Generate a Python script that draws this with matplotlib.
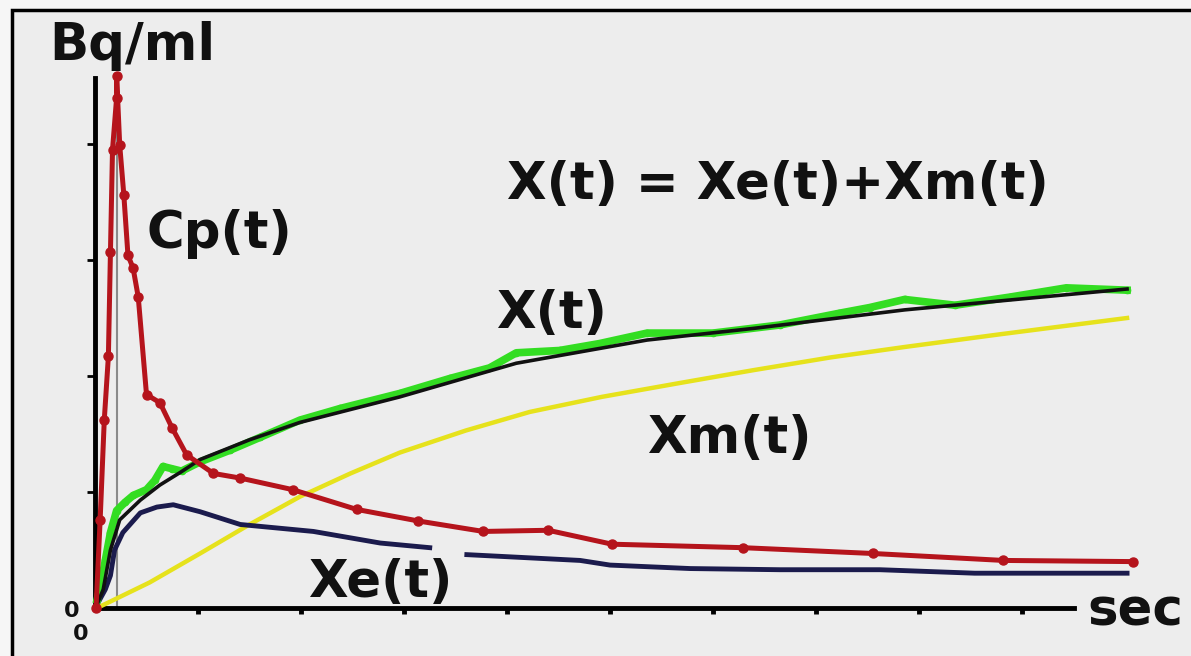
import numpy as np
import matplotlib
matplotlib.use("Agg")
import matplotlib.pyplot as plt
from matplotlib.patches import Rectangle

# time axis in tick units (one tick = one unit), values in tick units too
cp_t = [0.01, 0.05, 0.09, 0.13, 0.15, 0.17, 0.21, 0.21, 0.24, 0.28, 0.32, 0.37,
        0.42, 0.50, 0.63, 0.75, 0.89, 1.15, 1.41, 1.92, 2.54, 3.14, 3.77, 4.40,
        5.02, 6.29, 7.55, 8.82, 10.08]
cp_v = [0.00, 0.76, 1.62, 2.17, 3.07, 3.95, 4.40, 4.59, 3.99, 3.56, 3.04, 2.93,
        2.68, 1.84, 1.77, 1.55, 1.32, 1.16, 1.12, 1.02, 0.85, 0.75, 0.66, 0.67,
        0.55, 0.52, 0.47, 0.41, 0.40]

xmeas_t = [0.02, 0.05, 0.10, 0.15, 0.21, 0.29, 0.37, 0.50, 0.58, 0.66, 0.75, 0.84,
           1.02, 1.31, 1.60, 1.99, 2.38, 2.96, 3.45, 3.83, 4.09, 4.51, 4.90, 5.36,
           6.00, 6.65, 7.22, 7.52, 7.86, 8.35, 8.88, 9.43, 10.02]
xmeas_v = [0.07, 0.18, 0.41, 0.65, 0.84, 0.91, 0.97, 1.02, 1.10, 1.22, 1.20, 1.18,
           1.26, 1.36, 1.47, 1.62, 1.72, 1.85, 1.98, 2.07, 2.20, 2.22, 2.28, 2.37,
           2.37, 2.44, 2.54, 2.59, 2.66, 2.61, 2.68, 2.76, 2.74]

xfit_t = [0.02, 0.08, 0.15, 0.24, 0.44, 0.63, 0.83, 1.02, 1.50, 1.99, 2.96, 4.09,
          5.36, 6.39, 7.86, 10.02]
xfit_v = [0.03, 0.16, 0.50, 0.76, 0.93, 1.06, 1.17, 1.28, 1.45, 1.60, 1.82, 2.11,
          2.31, 2.41, 2.57, 2.75]

# nan leaves the small break next to the Xe(t) label
xe_t = [0.02, 0.10, 0.15, 0.19, 0.27, 0.44, 0.60, 0.76, 1.02, 1.41, 2.12, 2.77,
        3.25, 3.43, 3.61, 4.71, 5.00, 5.78, 6.65, 7.62, 8.54, 10.02]
xe_v = [0.03, 0.16, 0.28, 0.50, 0.65, 0.82, 0.87, 0.89, 0.83, 0.72, 0.66, 0.56,
        0.52, np.nan, 0.46, 0.41, 0.37, 0.34, 0.33, 0.33, 0.30, 0.30]

xm_t = [0.02, 0.53, 1.02, 1.50, 1.99, 2.48, 2.96, 3.60, 4.22, 4.92, 5.68, 6.39,
        7.14, 7.86, 8.79, 10.02]
xm_v = [0.00, 0.22, 0.47, 0.72, 0.96, 1.16, 1.34, 1.53, 1.69, 1.82, 1.94, 2.05,
        2.16, 2.25, 2.36, 2.50]

x_ticks = [1, 2, 3, 4, 5, 6, 7, 8, 9]
y_ticks = [1, 2, 3, 4]

fig = plt.figure(figsize=(11.91, 6.56), dpi=100)
fig.patch.set_facecolor("#f6f6f6")
# outer frame of the picture, kept behind the axes
fig.patches.append(Rectangle((12 / 1191, -0.1), 1.2, 0.1 + 646 / 656,
                             transform=fig.transFigure, facecolor="#ededed",
                             edgecolor="black", linewidth=2.5, zorder=-5))

ax = fig.add_axes([95 / 1191, 48 / 656, 1 - 95 / 1191, 608 / 656])
ax.set_facecolor("none")
ax.set_xlim(0, 1096 / 103)
ax.set_ylim(0, 608 / 116)

for s in ["top", "right"]:
    ax.spines[s].set_visible(False)
ax.spines["left"].set_linewidth(3.5)
ax.spines["bottom"].set_linewidth(3.5)
ax.spines["left"].set_bounds(0, 4.57)
ax.spines["bottom"].set_bounds(0, 9.50)
ax.set_xticks(x_ticks)
ax.set_yticks(y_ticks)
ax.set_xticklabels([])
ax.set_yticklabels([])
ax.tick_params(axis="x", direction="out", length=4, width=3.5, color="black")
ax.tick_params(axis="y", direction="out", length=6, width=2, color="black")

# thin grey marker line at the peak time
ax.plot([0.21, 0.21], [0, 4.57], color="#8a8a8a", lw=1.5, zorder=2)

ax.plot(xm_t, xm_v, color="#e6e21c", lw=3.2, zorder=3, clip_on=False)
ax.plot(xe_t, xe_v, color="#1b1b4d", lw=3.5, zorder=3, clip_on=False)
ax.plot(xmeas_t, xmeas_v, color="#33dd22", lw=5.5, marker="o", ms=4.5,
        zorder=4, clip_on=False)
ax.plot(xfit_t, xfit_v, color="#111111", lw=2.6, zorder=5, clip_on=False)
ax.plot(cp_t, cp_v, color="#b5141c", lw=3.6, marker="o", ms=6.5,
        zorder=6, clip_on=False)

big = dict(fontsize=37, fontweight="bold", family="DejaVu Sans",
           ha="center", va="baseline", color="#111111")
ax.text(0.36, 4.72, "Bq/ml", **big)
ax.text(1.21, 3.10, "Cp(t)", **big)
ax.text(6.63, 3.53, "X(t) = Xe(t)+Xm(t)", **big)
ax.text(4.43, 2.41, "X(t)", **big)
ax.text(6.16, 1.34, "Xm(t)", **big)
ax.text(2.77, 0.095, "Xe(t)", **big)
ax.text(10.10, -0.155, "sec", **big)

small = dict(fontsize=16, fontweight="bold", family="DejaVu Sans",
             ha="center", va="center", color="#111111")
ax.text(-0.23, -0.03, "0", **small)
ax.text(-0.14, -0.22, "0", **small)

fig.savefig("out.png", dpi=100, facecolor=fig.get_facecolor())
